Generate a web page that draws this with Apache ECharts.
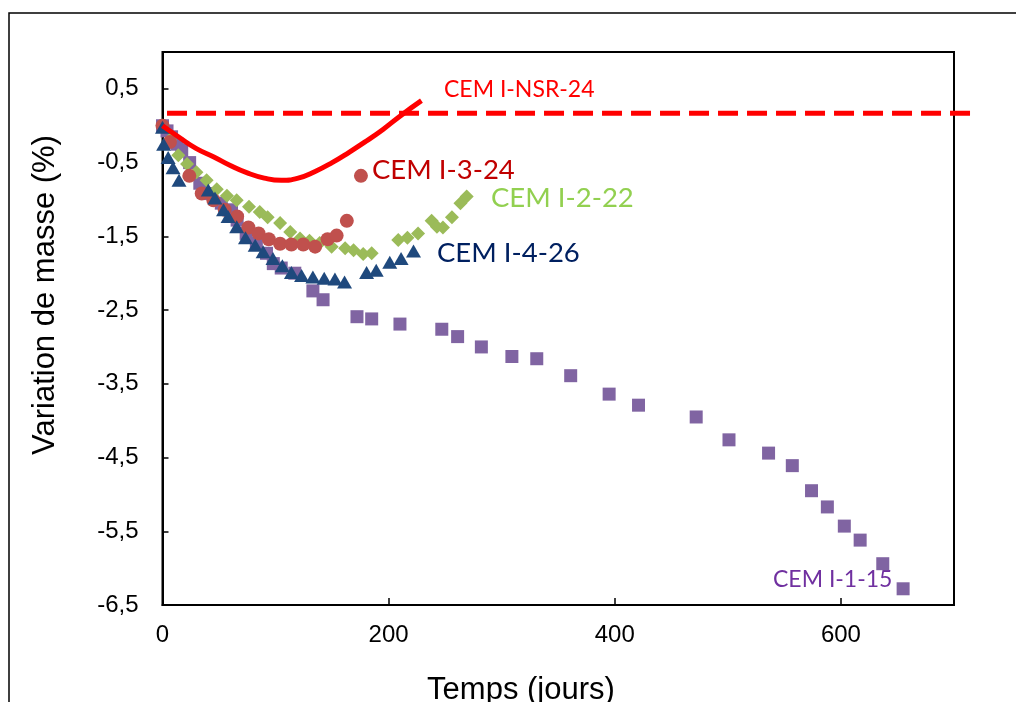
<!DOCTYPE html>
<html>
<head>
<meta charset="utf-8">
<script src="https://cdn.jsdelivr.net/npm/echarts@6/dist/echarts.min.js"></script>
<style>
html,body{margin:0;padding:0;background:#fff;}
#chart{width:1016px;height:702px;}
</style>
</head>
<body>
<div id="chart"></div>
<script>
// CEM I-1-15 (purple squares)
const i115X = [0,4,8,13,17,24,33,42,52,61,66,74,83,92,98,105,117,133,142,172,185,210,247,261,282,309,331,361,395,421,472,501,536,557,574,588,603,617,637,655];
const i115Y = [0,-0.07,-0.15,-0.25,-0.33,-0.5,-0.78,-0.92,-1.05,-1.14,-1.28,-1.46,-1.59,-1.73,-1.87,-1.93,-2.0,-2.24,-2.36,-2.59,-2.62,-2.69,-2.76,-2.86,-3.0,-3.13,-3.16,-3.39,-3.64,-3.79,-3.95,-4.26,-4.44,-4.61,-4.95,-5.17,-5.43,-5.62,-5.94,-6.28];
// CEM I-2-22 (green diamonds)
const i222X = [0,6.6,14,21.7,30,39,48,57,65.6,76.5,86,93,104,113,121.6,130,139,149.6,161.5,169,177.5,185,208.5,216.6,226,238,242.7,248,256,263.5,269];
const i222Y = [0,-0.19,-0.40,-0.52,-0.63,-0.74,-0.86,-0.95,-1.01,-1.10,-1.17,-1.24,-1.32,-1.44,-1.53,-1.56,-1.59,-1.64,-1.66,-1.69,-1.74,-1.73,-1.55,-1.52,-1.46,-1.29,-1.37,-1.38,-1.24,-1.05,-0.96];
// CEM I-3-24 (red circles)
const i324X = [0,6.6,23.7,34.7,45,55,66,76,85,94,104,114,124.5,135,146,154,163,175.5];
const i324Y = [0,-0.22,-0.68,-0.92,-1.01,-1.14,-1.23,-1.38,-1.46,-1.54,-1.60,-1.61,-1.61,-1.64,-1.54,-1.49,-1.29,-0.68];
// CEM I-4-26 (blue triangles)
const i426X = [0,1,5,9.3,14.6,40.5,46.4,54,58,65.6,73.4,82,89,97.7,106,114,123,133,143,152.5,161,180.5,189,201,211,222];
const i426Y = [-0.02,-0.25,-0.43,-0.57,-0.74,-0.87,-0.98,-1.14,-1.23,-1.37,-1.52,-1.62,-1.71,-1.80,-1.90,-1.99,-2.03,-2.05,-2.07,-2.08,-2.12,-1.99,-1.96,-1.85,-1.80,-1.70];
// CEM I-NSR-24 fitted curve (red solid)
const nsrX = [0,15,30,45,60,75,90,105,120,135,150,165,180,195,210,229];
const nsrY = [0,-0.16,-0.31,-0.42,-0.54,-0.64,-0.71,-0.74,-0.71,-0.62,-0.50,-0.36,-0.21,-0.05,0.13,0.34];
// reference dashed line (runs past the plot's right edge)
const refX = [4,716];
const refY = [0.17,0.17];

const xTicks = [0,200,400,600];
const yTicks = [-6.5,-5.5,-4.5,-3.5,-2.5,-1.5,-0.5,0.5];

function pairs(xs, ys){ return xs.map((x,i)=>[x, ys[i]]); }

const chart = echarts.init(document.getElementById('chart'), null, {renderer:'canvas'});
const axisFont = 'Liberation Sans, Arial, sans-serif';
const lblFont = 'Lato, "Open Sans", sans-serif';

// main grid: left 162.5, width 791.5 for 0..700
const G_LEFT = 162.5, G_RIGHT = 62;
const plotW = 1016 - G_LEFT - G_RIGHT;
// overlay grid extends further right with the same scale
const G2_RIGHT = 16;
const plotW2 = 1016 - G_LEFT - G2_RIGHT;
const x2Max = 700 * plotW2 / plotW;

chart.setOption({
  animation:false,
  backgroundColor:'#fff',
  grid:[
    {left:G_LEFT, right:G_RIGHT, top:52, bottom:97, show:true, borderColor:'#000', borderWidth:2, backgroundColor:'transparent'},
    {left:G_LEFT, right:G2_RIGHT, top:52, bottom:97, show:false}
  ],
  xAxis:[{
    type:'value', min:0, max:700, interval:200, gridIndex:0,
    axisLine:{show:true, onZero:false, lineStyle:{color:'#000', width:2}},
    axisTick:{show:true, inside:true, length:7, lineStyle:{color:'#000', width:1.5}},
    splitLine:{show:false},
    axisLabel:{color:'#000', fontSize:24, fontFamily:axisFont, margin:18,
      formatter:v=> xTicks.indexOf(v)>=0 ? String(v) : ''}
  },{
    type:'value', min:0, max:x2Max, gridIndex:1, show:false
  }],
  yAxis:[{
    type:'value', min:-6.5, max:1, interval:1, gridIndex:0,
    axisLine:{show:true, onZero:false, lineStyle:{color:'#000', width:2}},
    axisTick:{show:true, inside:true, length:6, lineStyle:{color:'#000', width:1.5}},
    splitLine:{show:false},
    axisLabel:{color:'#000', fontSize:24, fontFamily:axisFont, margin:24,
      formatter:v=> yTicks.some(t=>Math.abs(t-v)<1e-6) ? String(v).replace('.', ',') : ''}
  },{
    type:'value', min:-6.5, max:1, gridIndex:1, show:false
  }],
  series:[
    {type:'scatter', name:'CEM I-1-15', data:pairs(i115X,i115Y), symbol:'rect', symbolSize:13,
      itemStyle:{color:'#8064A2', opacity:1}, z:2},
    {type:'scatter', name:'CEM I-2-22', data:pairs(i222X,i222Y), symbol:'diamond', symbolSize:14,
      itemStyle:{color:'#9BBB59', opacity:1}, z:3},
    {type:'scatter', name:'CEM I-3-24', data:pairs(i324X,i324Y), symbol:'circle', symbolSize:14,
      itemStyle:{color:'#C0504D', opacity:1}, z:4},
    {type:'scatter', name:'CEM I-4-26', data:pairs(i426X,i426Y), symbol:'triangle', symbolSize:[15,13],
      itemStyle:{color:'#1F497D', opacity:1}, z:5},
    {type:'line', name:'ref', xAxisIndex:1, yAxisIndex:1, data:pairs(refX,refY), symbol:'none', clip:false,
      lineStyle:{color:'#FF0000', width:5, type:[20,9]}, z:6},
    {type:'line', name:'CEM I-NSR-24', data:pairs(nsrX,nsrY), symbol:'none', smooth:true,
      lineStyle:{color:'#FF0000', width:5}, z:7}
  ],
  graphic:[
    {type:'rect', shape:{x:9, y:13, width:1100, height:800}, style:{fill:'none', stroke:'#000', lineWidth:1.5}, silent:true, z:-1},
    {type:'text', x:45, y:295, rotation:Math.PI/2, style:{text:'Variation de masse (%)', font:'31px '+axisFont, fill:'#000', textAlign:'center', textVerticalAlign:'middle'}},
    {type:'text', x:521, y:690, style:{text:'Temps (jours)', font:'31px '+axisFont, fill:'#000', textAlign:'center', textVerticalAlign:'middle'}},
    {type:'text', x:444, y:90, style:{text:'CEM I-NSR-24', font:'23px '+lblFont, fill:'#FF0000', textVerticalAlign:'middle'}},
    {type:'text', x:372, y:170, style:{text:'CEM I-3-24', font:'27.5px '+lblFont, fill:'#C00000', textVerticalAlign:'middle'}},
    {type:'text', x:491, y:198, style:{text:'CEM I-2-22', font:'27.5px '+lblFont, fill:'#92D050', textVerticalAlign:'middle'}},
    {type:'text', x:437, y:253, style:{text:'CEM I-4-26', font:'27.5px '+lblFont, fill:'#002060', textVerticalAlign:'middle'}},
    {type:'text', x:773, y:580, style:{text:'CEM I-1-15', font:'23px '+lblFont, fill:'#7030A0', textVerticalAlign:'middle'}}
  ]
});
</script>
</body>
</html>
